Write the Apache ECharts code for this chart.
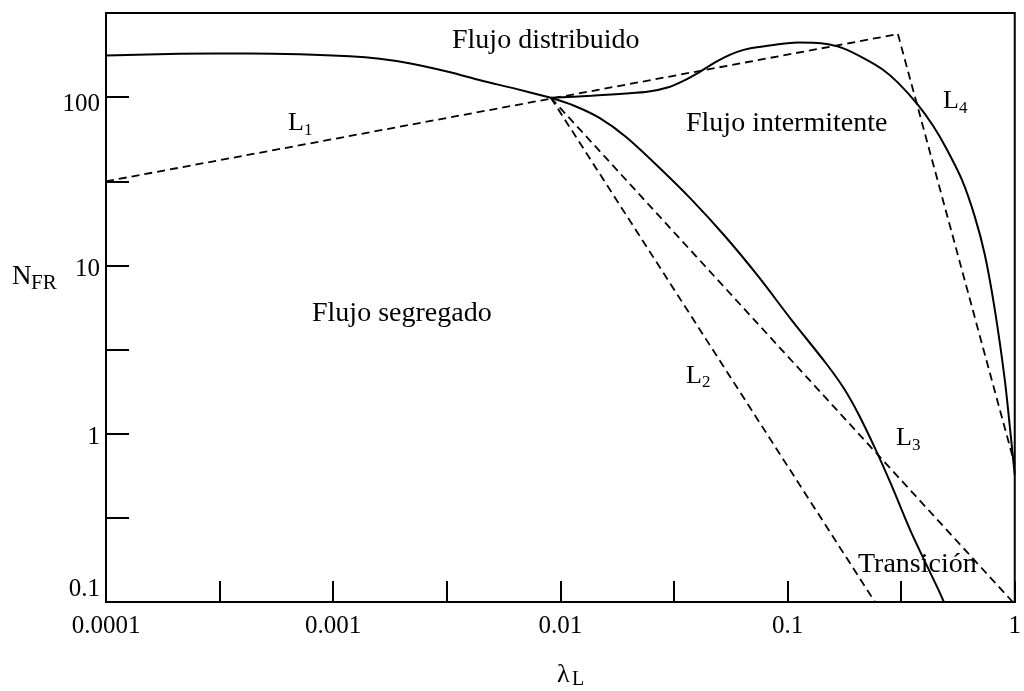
<!DOCTYPE html>
<html><head><meta charset="utf-8">
<script src="https://cdn.jsdelivr.net/npm/echarts@6/dist/echarts.min.js"></script>
<style>html,body{margin:0;padding:0;background:#fff}#c{width:1024px;height:691px}</style>
</head><body><div id="c"></div>
<script>
// Tick label values
const xTickValues = [0.0001, 0.001, 0.01, 0.1, 1];
const yTickValues = [0.1, 1, 10, 100];

// Solid boundary: segregated / distributed (left part)
const distX = [0.0001, 0.00021, 0.00043, 0.00071, 0.00118, 0.0016, 0.00216, 0.00324, 0.00452, 0.00638, 0.00908];
const distY = [177, 181, 182, 180, 175, 169, 159, 141, 125, 112, 99.1];

// Solid boundary: intermittent / distributed
const intX = [0.00908, 0.0137, 0.0194, 0.0245, 0.0299, 0.0348, 0.0406, 0.0462, 0.0522, 0.0596, 0.0686, 0.0883, 0.111, 0.130, 0.151, 0.176, 0.219, 0.263, 0.306, 0.375, 0.437, 0.498, 0.585, 0.667, 0.738, 0.817, 0.904, 0.959, 1.0];
const intY = [99.1, 102, 105, 108, 114.5, 125, 140, 156, 171, 185, 195, 205, 211, 210.5, 206, 195, 169, 145.5, 122, 90, 67.6, 50, 32.3, 19.5, 11.6, 5.46, 2.09, 0.99, 0.57];

// Solid boundary: segregated / intermittent
const segX = [0.00908, 0.0115, 0.0148, 0.0194, 0.027, 0.0378, 0.0533, 0.0745, 0.104, 0.147, 0.176, 0.205, 0.2425, 0.286, 0.349, 0.459, 0.4875];
const segY = [99.1, 88.9, 75.5, 58.2, 38.6, 24.6, 14.8, 8.57, 4.75, 2.64, 1.88, 1.31, 0.821, 0.498, 0.262, 0.12, 0.1];

// Dashed lines L1..L4
const l1X = [0.0001, 0.306];   const l1Y = [31.6, 237];
const l4X = [0.306, 1.0];      const l4Y = [237, 0.655];
const l2X = [0.00908, 0.2425]; const l2Y = [99.1, 0.1];
const l3X = [0.00908, 0.98];   const l3Y = [99.1, 0.1];

function pairs(xs, ys) { return xs.map((x, i) => [x, ys[i]]); }
const FONT = '"Liberation Serif", "Times New Roman", serif';
function fmt(v) { return String(Number(Number(v).toPrecision(3))); }

const chart = echarts.init(document.getElementById('c'), null, {renderer: 'canvas'});

const solid = {color: '#000', width: 2};
const dashed = {color: '#000', width: 1.8, type: [8, 5]};
function line(name, xs, ys, style, smooth) {
  return {name, type: 'line', xAxisIndex: 0, yAxisIndex: 0, data: pairs(xs, ys),
    showSymbol: false, symbol: 'none', smooth: smooth, lineStyle: style, silent: true, animation: false, z: 3};
}

function txt(t, x, y, size) {
  return {type: 'text', x: x, y: y, z: 10, silent: true,
    style: {text: t, font: size + 'px ' + FONT, fill: '#000', align: 'left', verticalAlign: 'middle',
            textAlign: 'left', textVerticalAlign: 'middle'}};
}

const option = {
  animation: false,
  backgroundColor: '#fff',
  grid: {left: 106, right: 7, top: 13, bottom: 89, show: true, borderColor: '#000', borderWidth: 2, backgroundColor: 'transparent'},
  xAxis: [
    {type: 'log', min: xTickValues[0], max: xTickValues[xTickValues.length - 1], logBase: 10, position: 'bottom',
     axisLine: {show: true, onZero: false, lineStyle: {color: '#000', width: 2}},
     axisTick: {show: false}, splitLine: {show: false}, minorTick: {show: false},
     axisLabel: {show: true, color: '#000', fontFamily: FONT, fontSize: 25, margin: 12,
                 formatter: fmt, showMinLabel: true, showMaxLabel: true}},
    {type: 'value', min: -4, max: 0, interval: 0.5, position: 'bottom',
     axisLine: {show: false, onZero: false}, splitLine: {show: false}, axisLabel: {show: false},
     axisTick: {show: true, inside: true, length: 21, lineStyle: {color: '#000', width: 2}}}
  ],
  yAxis: [
    {type: 'log', min: yTickValues[0], max: 316.23, logBase: 10, position: 'left',
     axisLine: {show: true, onZero: false, lineStyle: {color: '#000', width: 2}},
     axisTick: {show: false}, splitLine: {show: false}, minorTick: {show: false},
     axisLabel: {show: true, color: '#000', fontFamily: FONT, fontSize: 25, margin: 6,
                 showMaxLabel: false, showMinLabel: true,
                 formatter: function (v) {
                   const s = fmt(v);
                   if (s === '0.1') return '{lo|' + s + '}';
                   if (s === '100') return '{hi|' + s + '}';
                   return '{n|' + s + '}';
                 },
                 rich: {
                   n: {fontFamily: FONT, fontSize: 25, color: '#000', padding: [8, 0, 0, 0]},
                   hi: {fontFamily: FONT, fontSize: 25, color: '#000', padding: [14, 0, 0, 0]},
                   lo: {fontFamily: FONT, fontSize: 25, color: '#000', padding: [0, 0, 26, 0]}
                 }}},
    {type: 'value', min: -1, max: 2.5, interval: 0.5, position: 'left',
     axisLine: {show: false, onZero: false}, splitLine: {show: false}, axisLabel: {show: false},
     axisTick: {show: true, inside: true, length: 23, lineStyle: {color: '#000', width: 2}}}
  ],
  series: [
    line('dist', distX, distY, solid, 0.3),
    line('int', intX, intY, solid, 0.3),
    line('seg', segX, segY, solid, 0.3),
    line('L1', l1X, l1Y, dashed, false),
    line('L4', l4X, l4Y, dashed, false),
    line('L2', l2X, l2Y, dashed, false),
    line('L3', l3X, l3Y, dashed, false)
  ],
  graphic: [
    txt('Flujo distribuido', 452, 40.5, 28),
    txt('Flujo intermitente', 686, 124, 28),
    txt('Flujo segregado', 312, 314, 28),
    txt('Transición', 858, 565, 28),
    txt('L', 288, 123.2, 26), txt('1', 304, 130.3, 17),
    txt('L', 686, 375.7, 26), txt('2', 702, 382.3, 17),
    txt('L', 896, 438.2, 26), txt('3', 912, 445.3, 17),
    txt('L', 943, 101.2, 26), txt('4', 959, 108.3, 17),
    txt('N', 12, 277, 27), txt('FR', 31, 283.4, 21),
    txt('λ', 557, 675.2, 26), txt('L', 572, 680.2, 20)
  ]
};
chart.setOption(option);
</script>
</body></html>
